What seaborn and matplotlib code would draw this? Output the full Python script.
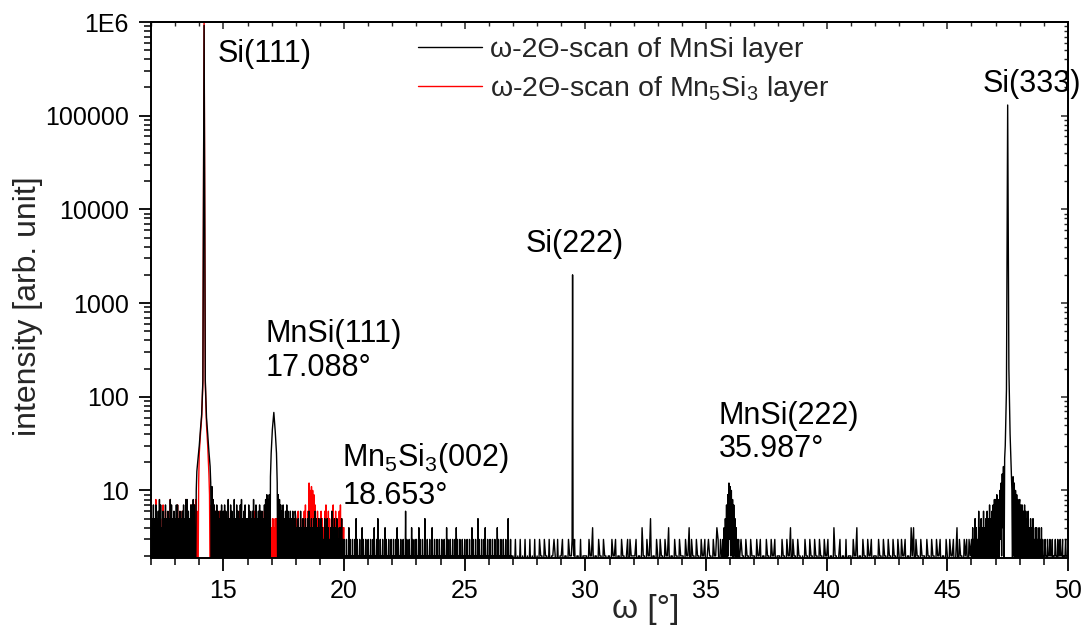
import numpy as np
import pandas as pd
import seaborn as sns
import matplotlib
matplotlib.use("Agg")
import matplotlib.pyplot as plt
from matplotlib.lines import Line2D
from matplotlib.ticker import (FixedLocator, FixedFormatter, LogLocator,
                               MultipleLocator, NullFormatter)

# ---------------- data (counts) ----------------
# background counts, one digit per scan step; each line covers 1 degree
FINE = 0.025    # step of the dense blocks (40 digits per degree)
COARSE = 0.05   # step of the sparse block (20 digits per degree)

BLACK_NOISE_12_27 = (                               # start 12.0, step FINE
    "6151715171516181714161517151615181715161"  # 12
    "5171715161516171518181615171718171819181"  # 13
    "6151616151716151617151681716171615161715"  # 14
    "6171615181517161518151716151718151617151"  # 15
    "5171615161815171516171616151718191819181"  # 16
    "9181716161591817161715161716151615161516"  # 17
    "5141514161415141514151614151415161514151"  # 18
    "4151413151415141314161415141513141415131"  # 19
    "3121312141312131213151312131214131213121"  # 20
    "3121312131412131512131213121413121312131"  # 21
    "2131213141312131213121613121312141312131"  # 22
    "3121413121312151213121312141213121312131"  # 23
    "2131213121413121312131213141312131213121"  # 24
    "3121312131214131213121513121312131412131"  # 25
    "2131213121312141312131213121312151213121"  # 26
)
BLACK_NOISE_27_46 = (                               # start 27.0, step COARSE
    "21312131213121312131"  # 27
    "21322132213122321312"  # 28
    "23122132212312213122"  # 29
    "22132241221322132212"  # 30
    "21322312213221231322"  # 31
    "22312214221322512213"  # 32
    "21322132241221322132"  # 33
    "22132241322132213223"  # 34
    "12322132243132213422"  # 35
    "23221322132213221322"  # 36
    "21322312213221322312"  # 37
    "22132213224132213221"  # 38
    "21322132213221322132"  # 39
    "23122142212312213122"  # 40
    "21322412213221322312"  # 41
    "22132213221322132213"  # 42
    "21322312214241322132"  # 43
    "22132213221322312213"  # 44
    "21322312413221323132"  # 45
)
BLACK_NOISE_46_50 = (                               # start 46.0, step FINE
    "3141315141316141514161415161517151617181"  # 46
    "8191811111111111111111111111111111191817"  # 47
    "8171716171615161415141513141413141314131"  # 48
    "2232213222322231222322132223222312223222"  # 49
    "2"                                         # 50
)
RED_NOISE_12_20 = (                                 # start 12.0, step FINE
    "7141514181415161514171416151514181514151"  # 12
    "5141714151416151418151514171615171816191"  # 13
    "1111111111111111118171615161415151614151"  # 14
    "5141514151416141415151514161514151415151"  # 15
    "5141415141516151514151514151615151415151"  # 16
    "4151415151514151615141515151415151514151"  # 17
    "4151614151415161711111111111111111516151"  # 18
    "5161514161715161514161715161514161715141"  # 19
    "4"                                         # 20
)

# peaks of the MnSi sample (black)
si111_black_x = [13.850, 13.875, 13.900, 13.950, 14.000, 14.050, 14.100, 14.150, 14.200,
                 14.250, 14.300, 14.350, 14.400, 14.450, 14.475, 14.500, 14.525, 14.550]
si111_black_y = [1, 10, 16, 22, 30, 45, 65, 150, 920000,
                 150, 60, 40, 26, 18, 12, 1, 11, 1]
mnsi111_x = [16.930, 16.950, 16.980, 17.030, 17.090, 17.150, 17.200, 17.230, 17.250]
mnsi111_y = [1, 14, 25, 45, 68, 42, 25, 12, 1]
si222_x = [29.42, 29.45, 29.47, 29.49, 29.52]
si222_y = [2, 3, 2000, 3, 2]
mnsi222_x = [35.650, 35.675, 35.700, 35.725, 35.750, 35.775, 35.800, 35.825, 35.850,
             35.875, 35.900, 35.925, 35.950, 35.975, 36.000, 36.025, 36.050, 36.075,
             36.100, 36.125, 36.150, 36.175, 36.200, 36.225, 36.250, 36.275, 36.300,
             36.325, 36.350, 36.375, 36.400]
mnsi222_y = [2, 1, 3, 1, 4, 1, 5, 2, 7,
             1, 9, 2, 12, 3, 11, 2, 10, 2,
             8, 1, 7, 2, 5, 1, 4, 1, 3,
             2, 3, 1, 2]
si333_x = [47.150, 47.175, 47.200, 47.225, 47.250, 47.275, 47.300, 47.325, 47.350,
           47.375, 47.400, 47.450, 47.500, 47.550, 47.600, 47.650, 47.675, 47.700,
           47.725, 47.750, 47.775, 47.800, 47.825, 47.850]
si333_y = [2, 10, 3, 12, 2, 15, 4, 18, 1,
           22, 30, 120, 130000, 200, 40, 16, 10, 1,
           14, 2, 12, 1, 10, 2]

# peaks of the Mn5Si3 sample (red)
si111_red_x = [13.950, 13.975, 14.000, 14.050, 14.100, 14.150, 14.200, 14.250, 14.300,
               14.350, 14.400, 14.425, 14.450]
si111_red_y = [1, 12, 25, 40, 60, 140, 1300000, 140, 50,
               30, 15, 9, 1]
mn5si3_002_x = [18.450, 18.475, 18.500, 18.525, 18.550, 18.575, 18.600, 18.625, 18.650,
                18.675, 18.700, 18.725, 18.750, 18.775, 18.800, 18.825, 18.850]
mn5si3_002_y = [3, 1, 6, 2, 12, 3, 10, 4, 11,
                5, 10, 3, 9, 2, 7, 1, 4]

y_tick_values = [10, 100, 1000, 10000, 100000, 1000000]
y_tick_labels = ["10", "100", "1000", "10000", "100000", "1E6"]


# ---------------- assemble series ----------------
def noise(start, step, digits):
    return [(round(start + step * i, 4), int(c)) for i, c in enumerate(digits)]


def merge(bg, peaks):
    pts = []
    for x, y in bg:
        if not any(min(px) - 1e-9 <= x <= max(px) + 1e-9 for px, _ in peaks):
            pts.append((x, y))
    for px, py in peaks:
        pts += list(zip(px, py))
    pts.sort()
    return pd.DataFrame(pts, columns=["omega", "counts"])


black_df = merge(noise(12.0, FINE, BLACK_NOISE_12_27)
                 + noise(27.0, COARSE, BLACK_NOISE_27_46)
                 + noise(46.0, FINE, BLACK_NOISE_46_50),
                 [(si111_black_x, si111_black_y), (mnsi111_x, mnsi111_y),
                  (si222_x, si222_y), (mnsi222_x, mnsi222_y), (si333_x, si333_y)])
red_df = merge(noise(12.0, FINE, RED_NOISE_12_20),
               [(si111_red_x, si111_red_y), (mn5si3_002_x, mn5si3_002_y)])

# ---------------- figure ----------------
sns.set_theme(style="white")
plt.rcParams["font.family"] = ["Liberation Sans", "DejaVu Sans"]
plt.rcParams["mathtext.fontset"] = "custom"
plt.rcParams["mathtext.rm"] = "Liberation Sans"
plt.rcParams["mathtext.it"] = "Liberation Sans"
plt.rcParams["mathtext.default"] = "regular"
plt.rcParams["path.simplify"] = False

fig = plt.figure(figsize=(10.85, 6.32), dpi=100)
ax = fig.add_axes([151 / 1085, 1 - 558 / 632, (1068 - 151) / 1085, (558 - 22) / 632])

sns.lineplot(data=red_df, x="omega", y="counts", ax=ax, color="#ff0000",
             lw=1.0, estimator=None, sort=False)
sns.lineplot(data=black_df, x="omega", y="counts", ax=ax, color="black",
             lw=1.0, estimator=None, sort=False)

ax.set_yscale("log")
ax.set_xlim(12, 50)
ax.set_ylim(1.9, 1e6)

ax.xaxis.set_major_locator(MultipleLocator(5))
ax.xaxis.set_minor_locator(MultipleLocator(1))
ax.yaxis.set_major_locator(FixedLocator(y_tick_values))
ax.yaxis.set_major_formatter(FixedFormatter(y_tick_labels))
ax.yaxis.set_minor_locator(LogLocator(base=10, subs=range(2, 10), numticks=20))
ax.yaxis.set_minor_formatter(NullFormatter())
ax.tick_params(which="major", direction="out", length=9, width=1.3,
               labelsize=18, color="black", labelcolor="black",
               bottom=True, left=True, top=False, right=False)
ax.tick_params(axis="x", which="major", pad=6)
ax.tick_params(axis="y", which="major", pad=7)
ax.tick_params(which="minor", direction="out", length=5, width=1.1,
               color="black", bottom=True, left=True, top=False, right=False)
for s in ax.spines.values():
    s.set_linewidth(1.4)
    s.set_color("black")

# mirrored inward ticks on top and right
axt = ax.secondary_xaxis("top")
axt.xaxis.set_major_locator(MultipleLocator(5))
axt.xaxis.set_minor_locator(MultipleLocator(1))
axt.xaxis.set_major_formatter(NullFormatter())
axt.tick_params(which="major", direction="in", length=5, width=1.1)
axt.tick_params(which="minor", direction="in", length=3, width=1.0)
axr = ax.secondary_yaxis("right")
axr.yaxis.set_major_locator(FixedLocator(y_tick_values))
axr.yaxis.set_major_formatter(NullFormatter())
axr.yaxis.set_minor_locator(LogLocator(base=10, subs=range(2, 10), numticks=20))
axr.yaxis.set_minor_formatter(NullFormatter())
axr.tick_params(which="major", direction="in", length=5, width=1.1)
axr.tick_params(which="minor", direction="in", length=3, width=1.0)

ax.set_xlabel("ω [°]", fontsize=24)
ax.xaxis.set_label_coords(0.54, -0.068)
ax.set_ylabel("intensity [arb. unit]", fontsize=23)
ax.yaxis.set_label_coords(-0.118, 0.47)

# annotations
ann = dict(fontsize=22, ha="left", va="center", color="black")
ax.text(14.74, 4.6e5, "Si(111)", **ann)
ax.text(46.45, 2.2e5, "Si(333)", **ann)
ax.text(27.52, 4.3e3, "Si(222)", **ann)
ax.text(16.73, 470, "MnSi(111)", **ann)
ax.text(16.73, 205, "17.088°", **ann)
ax.text(19.93, 22, "Mn$_5$Si$_3$(002)", **ann)
ax.text(19.93, 8.8, "18.653°", **ann)
ax.text(35.53, 62, "MnSi(222)", **ann)
ax.text(35.53, 28, "35.987°", **ann)

handles = [Line2D([], [], color="black", lw=1.0), Line2D([], [], color="#ff0000", lw=1.0)]
labels = ["ω-2Θ-scan of MnSi layer", "ω-2Θ-scan of Mn$_5$Si$_3$ layer"]
ax.legend(handles, labels, loc="upper left", bbox_to_anchor=(0.291, 0.972),
          frameon=False, fontsize=20.5, handlelength=2.25, handletextpad=0.28,
          labelspacing=0.38, borderaxespad=0, borderpad=0)

fig.savefig("out.png", dpi=100)
